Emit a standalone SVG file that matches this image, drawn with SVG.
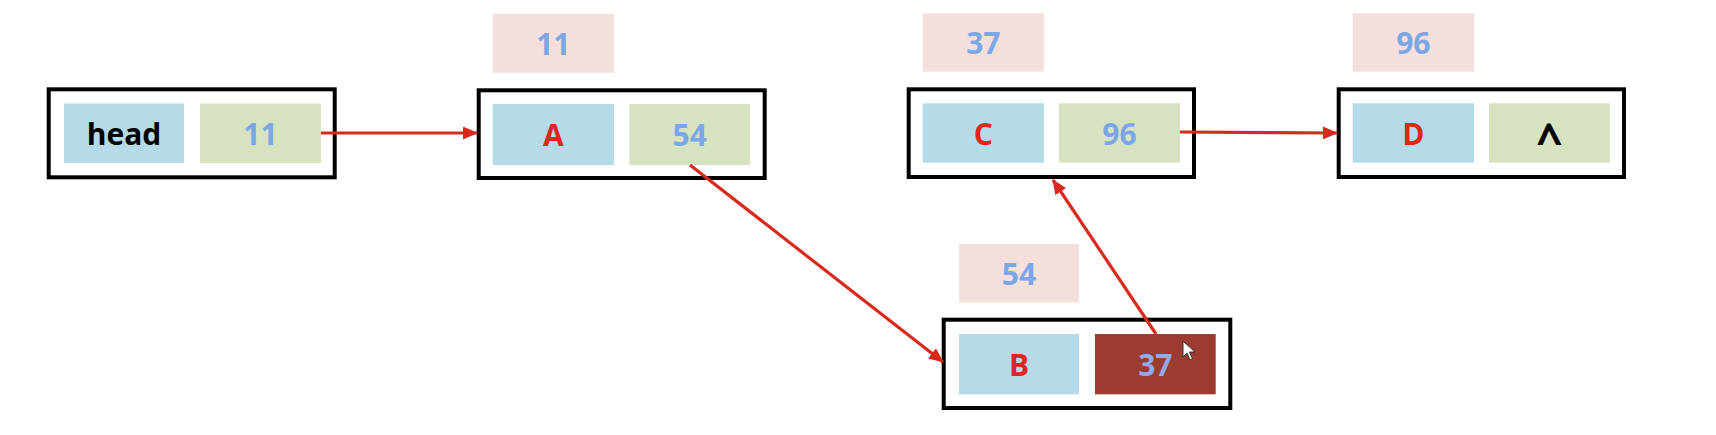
<svg xmlns="http://www.w3.org/2000/svg" width="1716" height="435" viewBox="0 0 1716 435">
<style>
.frame{fill:#ffffff;stroke:#000000;stroke-width:4}
.data{fill:#B5DBE9}
.next{fill:#D7E2C0}
.addr{fill:#F3DFDC}
.hot{fill:#9C3B2F}
text{font-family:"Open Sans","DejaVu Sans",sans-serif;font-weight:bold;font-size:30px;text-anchor:middle}
.blue{fill:#7BA7E6}
.red{fill:#E1251B}
.blk{fill:#000000}
.lav{fill:#93A9EC}
.caret{font-size:46px}
.link{fill:none;stroke:#D9281C;stroke-width:3.2}
</style>
<defs>
<marker id="ah" markerUnits="userSpaceOnUse" markerWidth="15" markerHeight="13" viewBox="0 0 15 13" refX="14" refY="6.5" orient="auto">
<path d="M0,0 L15,6.5 L0,13 Z" fill="#D9281C"/>
</marker>
</defs>
<rect width="1716" height="435" fill="#ffffff"/>
<g id="head">
<rect class="frame" x="48.7" y="89.3" width="286" height="88"/>
<rect class="data" x="64" y="103.5" width="120" height="59.5"/>
<rect class="next" x="200" y="103.5" width="121" height="59.5"/>
<text class="blk" x="124" y="145">head</text>
<text class="blue" x="260.5" y="145">11</text>
</g>
<g id="nodeA">
<rect class="addr" x="492.7" y="14" width="121.3" height="58.7"/>
<text class="blue" x="553.3" y="55">11</text>
<rect class="frame" x="478.7" y="90.3" width="286" height="87.7"/>
<rect class="data" x="492.7" y="104" width="121.3" height="61"/>
<rect class="next" x="629.3" y="104" width="120.7" height="61"/>
<text class="red" x="553.3" y="146">A</text>
<text class="blue" x="689.7" y="146">54</text>
</g>
<g id="nodeC">
<rect class="addr" x="922.7" y="13.3" width="121.3" height="58.4"/>
<text class="blue" x="983.3" y="54">37</text>
<rect class="frame" x="908.7" y="89.3" width="285.3" height="87.7"/>
<rect class="data" x="922.7" y="103.3" width="121.3" height="59.4"/>
<rect class="next" x="1059" y="103.3" width="121" height="59.4"/>
<text class="red" x="983.3" y="145">C</text>
<text class="blue" x="1119.5" y="145">96</text>
</g>
<g id="nodeD">
<rect class="addr" x="1352.7" y="13.3" width="121.3" height="58.4"/>
<text class="blue" x="1413.3" y="54">96</text>
<rect class="frame" x="1338.7" y="89.3" width="285.3" height="87.7"/>
<rect class="data" x="1352.7" y="103.3" width="121.3" height="59.4"/>
<rect class="next" x="1489" y="103.3" width="121" height="59.4"/>
<text class="red" x="1413.3" y="145">D</text>
<text class="blk caret" x="1549.5" y="157">^</text>
</g>
<g id="nodeB">
<rect class="addr" x="959" y="244" width="120" height="58.3"/>
<text class="blue" x="1019" y="285">54</text>
<rect class="frame" x="943.7" y="319.7" width="286.6" height="88.3"/>
<rect class="data" x="959" y="334" width="120" height="60.3"/>
<rect class="hot" x="1095" y="334" width="120.7" height="60.3"/>
<text class="red" x="1019" y="376">B</text>
<text class="lav" x="1155.3" y="376">37</text>
<path d="M1183,341 L1183,357 L1187,353 L1190,360 L1192.5,359 L1189.5,352 L1195,352 Z" fill="#ffffff" stroke="#333333" stroke-width="1"/>
</g>
<g id="connectors">
<line class="link" x1="321" y1="133" x2="477" y2="133" marker-end="url(#ah)"/>
<line class="link" x1="690" y1="165" x2="943" y2="362" marker-end="url(#ah)"/>
<line class="link" x1="1156" y1="334" x2="1053" y2="180" marker-end="url(#ah)"/>
<line class="link" x1="1180" y1="132" x2="1337" y2="133" marker-end="url(#ah)"/>
</g>
</svg>
